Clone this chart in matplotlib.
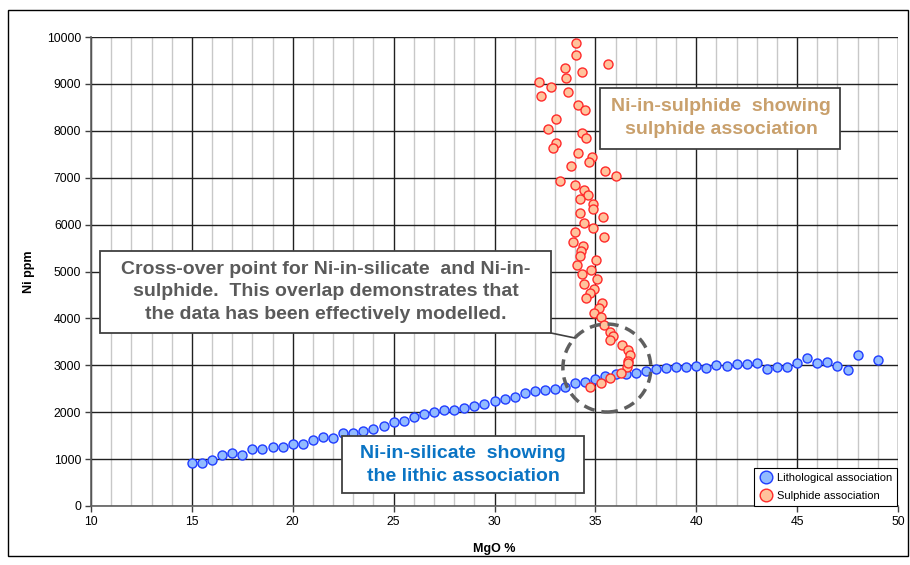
import matplotlib
matplotlib.use('Agg')
import matplotlib.pyplot as plt
from matplotlib.patches import Ellipse, Rectangle
from matplotlib.lines import Line2D

plt.rcParams['font.family'] = ['Liberation Sans', 'DejaVu Sans']

# ---- data ----
litho_mgo = [15.0, 15.5, 16.0, 16.5, 17.0, 17.5, 18.0, 18.5, 19.0, 19.5,
             20.0, 20.5, 21.0, 21.5, 22.0, 22.5, 23.0, 23.5, 24.0, 24.5,
             25.0, 25.5, 26.0, 26.5, 27.0, 27.5, 28.0, 28.5, 29.0, 29.5,
             30.0, 30.5, 31.0, 31.5, 32.0, 32.5, 33.0, 33.5, 34.0, 34.5,
             35.0, 35.5, 36.0, 36.5, 37.0, 37.5, 38.0, 38.5, 39.0, 39.5,
             40.0, 40.5, 41.0, 41.5, 42.0, 42.5, 43.0, 43.5, 44.0, 44.5,
             45.0, 45.5, 46.0, 46.5, 47.0, 47.5, 48.0, 49.0]
litho_ni = [925, 910, 988, 1087, 1123, 1080, 1208, 1208, 1251, 1265,
            1329, 1322, 1407, 1478, 1457, 1564, 1564, 1599, 1642, 1706,
            1784, 1805, 1898, 1955, 1997, 2040, 2054, 2082, 2139, 2175,
            2239, 2274, 2331, 2402, 2459, 2480, 2494, 2544, 2615, 2645,
            2708, 2772, 2814, 2807, 2829, 2878, 2921, 2935, 2957, 2971,
            2992, 2950, 3006, 2985, 3020, 3020, 3042, 2928, 2964, 2971,
            3056, 3149, 3049, 3063, 2992, 2907, 3220, 3106]

sulph_mgo = [34.03, 34.05, 35.64, 33.50, 34.32, 33.52, 32.23, 32.78, 33.65, 32.30,
             34.15, 34.51, 33.04, 32.63, 34.32, 34.53, 33.04, 32.91, 34.12, 34.84,
             34.68, 33.77, 35.46, 36.02, 33.24, 33.98, 34.44, 34.64, 34.23, 34.86,
             34.86, 34.26, 35.37, 34.45, 34.89, 34.00, 35.41, 33.88, 34.41, 34.28,
             34.23, 35.04, 34.08, 34.79, 34.36, 35.10, 34.43, 34.94, 34.74, 34.53,
             35.31, 35.18, 34.94, 35.27, 35.44, 35.73, 35.86, 35.72, 36.30, 36.63,
             36.71, 36.63, 36.55, 36.60, 36.25, 35.72, 35.26, 34.73]
sulph_ni = [9865, 9609, 9431, 9332, 9247, 9126, 9033, 8934, 8834, 8742,
            8543, 8443, 8245, 8038, 7946, 7839, 7747, 7633, 7534, 7434,
            7328, 7249, 7143, 7036, 6937, 6837, 6738, 6638, 6539, 6439,
            6326, 6250, 6155, 6041, 5935, 5835, 5736, 5629, 5544, 5430,
            5338, 5238, 5146, 5039, 4954, 4840, 4733, 4627, 4534, 4435,
            4330, 4215, 4122, 4037, 3850, 3717, 3618, 3540, 3433, 3320,
            3220, 3099, 2971, 3040, 2843, 2736, 2630, 2544]

x_ticks = [10, 15, 20, 25, 30, 35, 40, 45, 50]
y_ticks = [0, 1000, 2000, 3000, 4000, 5000, 6000, 7000, 8000, 9000, 10000]

W, H = 910, 565
fig = plt.figure(figsize=(W / 100, H / 100), dpi=100)

def fx(px):
    return px / W

def fy(py):
    return 1 - py / H

# outer frame
fig.patches.append(Rectangle((fx(8), fy(556)), fx(908) - fx(8), fy(10) - fy(556),
                             transform=fig.transFigure, fill=False,
                             edgecolor='black', linewidth=1.0))

ax = fig.add_axes([fx(91), fy(506), fx(898) - fx(91), fy(37) - fy(506)])
ax.set_xlim(10, 50)
ax.set_ylim(0, 10000)
ax.set_xticks(x_ticks)
ax.set_xticks(range(10, 51), minor=True)
ax.set_yticks(y_ticks)
ax.grid(which='minor', axis='x', color='#c8c8c8', linewidth=1.0, zorder=0)
ax.grid(which='major', axis='both', color='#202020', linewidth=1.0, zorder=0.5)
ax.tick_params(which='minor', length=0)
ax.tick_params(which='major', direction='out', length=4, width=1, colors='#404040',
               labelsize=8.8, labelcolor='black', pad=3)
for s in ['top', 'right']:
    ax.spines[s].set_visible(False)
for s in ['left', 'bottom']:
    ax.spines[s].set_color('#606060')
    ax.spines[s].set_linewidth(1.2)
ax.set_axisbelow(True)

ax.set_xlabel('MgO %', fontsize=9, fontweight='bold', labelpad=11)
ax.set_ylabel('Ni ppm', fontsize=9, fontweight='bold', labelpad=9)

ax.plot(litho_mgo, litho_ni, linestyle='none', marker='o', markersize=6.5,
        markerfacecolor='#92bbff', markeredgecolor='#1f3cff', markeredgewidth=1.0,
        zorder=3, label='Lithological association')
ax.plot(sulph_mgo, sulph_ni, linestyle='none', marker='o', markersize=6.5,
        markerfacecolor='#ffc39c', markeredgecolor='#ff2a2a', markeredgewidth=1.0,
        zorder=4, label='Sulphide association')

# dashed circle around cross-over
ax.add_patch(Ellipse((35.57, 2942), width=4.36, height=1876, fill=False,
                     edgecolor='#5f5f5f', linewidth=2.5, linestyle=(0, (3.2, 2.0)),
                     zorder=5))

leg = ax.legend(loc='lower right', bbox_to_anchor=(0.9985, 0.0), borderaxespad=0,
                fancybox=False, framealpha=1, edgecolor='black', fontsize=8,
                handletextpad=0.3, handlelength=1.3, borderpad=0.45,
                labelspacing=0.75, markerscale=1.4)
leg.get_frame().set_linewidth(0.8)
leg.set_zorder(10)

# text boxes (figure pixel geometry)
def tbox(x0, y0, x1, y1, text, color, size, cx, cy, ls, ec='#404040', lw=1.3):
    fig.patches.append(Rectangle((fx(x0), fy(y1)), fx(x1) - fx(x0), fy(y0) - fy(y1),
                                 transform=fig.transFigure, facecolor='white',
                                 edgecolor=ec, linewidth=lw, zorder=20))
    fig.text(fx(cx), fy(cy), text, color=color, fontsize=size, fontweight='bold',
             ha='center', va='center', linespacing=ls, zorder=21)

tbox(100, 251, 551, 333,
     'Cross-over point for Ni-in-silicate  and Ni-in-\n'
     'sulphide.  This overlap demonstrates that\n'
     'the data has been effectively modelled.',
     '#5a5a5a', 14, 326, 292, 1.45)
tbox(600, 88, 840, 149, 'Ni-in-sulphide  showing\nsulphide association',
     '#c9a06c', 14, 721, 118, 1.48)
tbox(342, 436, 584, 493, 'Ni-in-silicate  showing\nthe lithic association',
     '#0a74c4', 14, 463, 465, 1.48)

fig.lines.append(Line2D([fx(551), fx(575)], [fy(333), fy(338)],
                        transform=fig.transFigure, color='#404040', linewidth=1.2))

fig.savefig('out.png', dpi=100)
